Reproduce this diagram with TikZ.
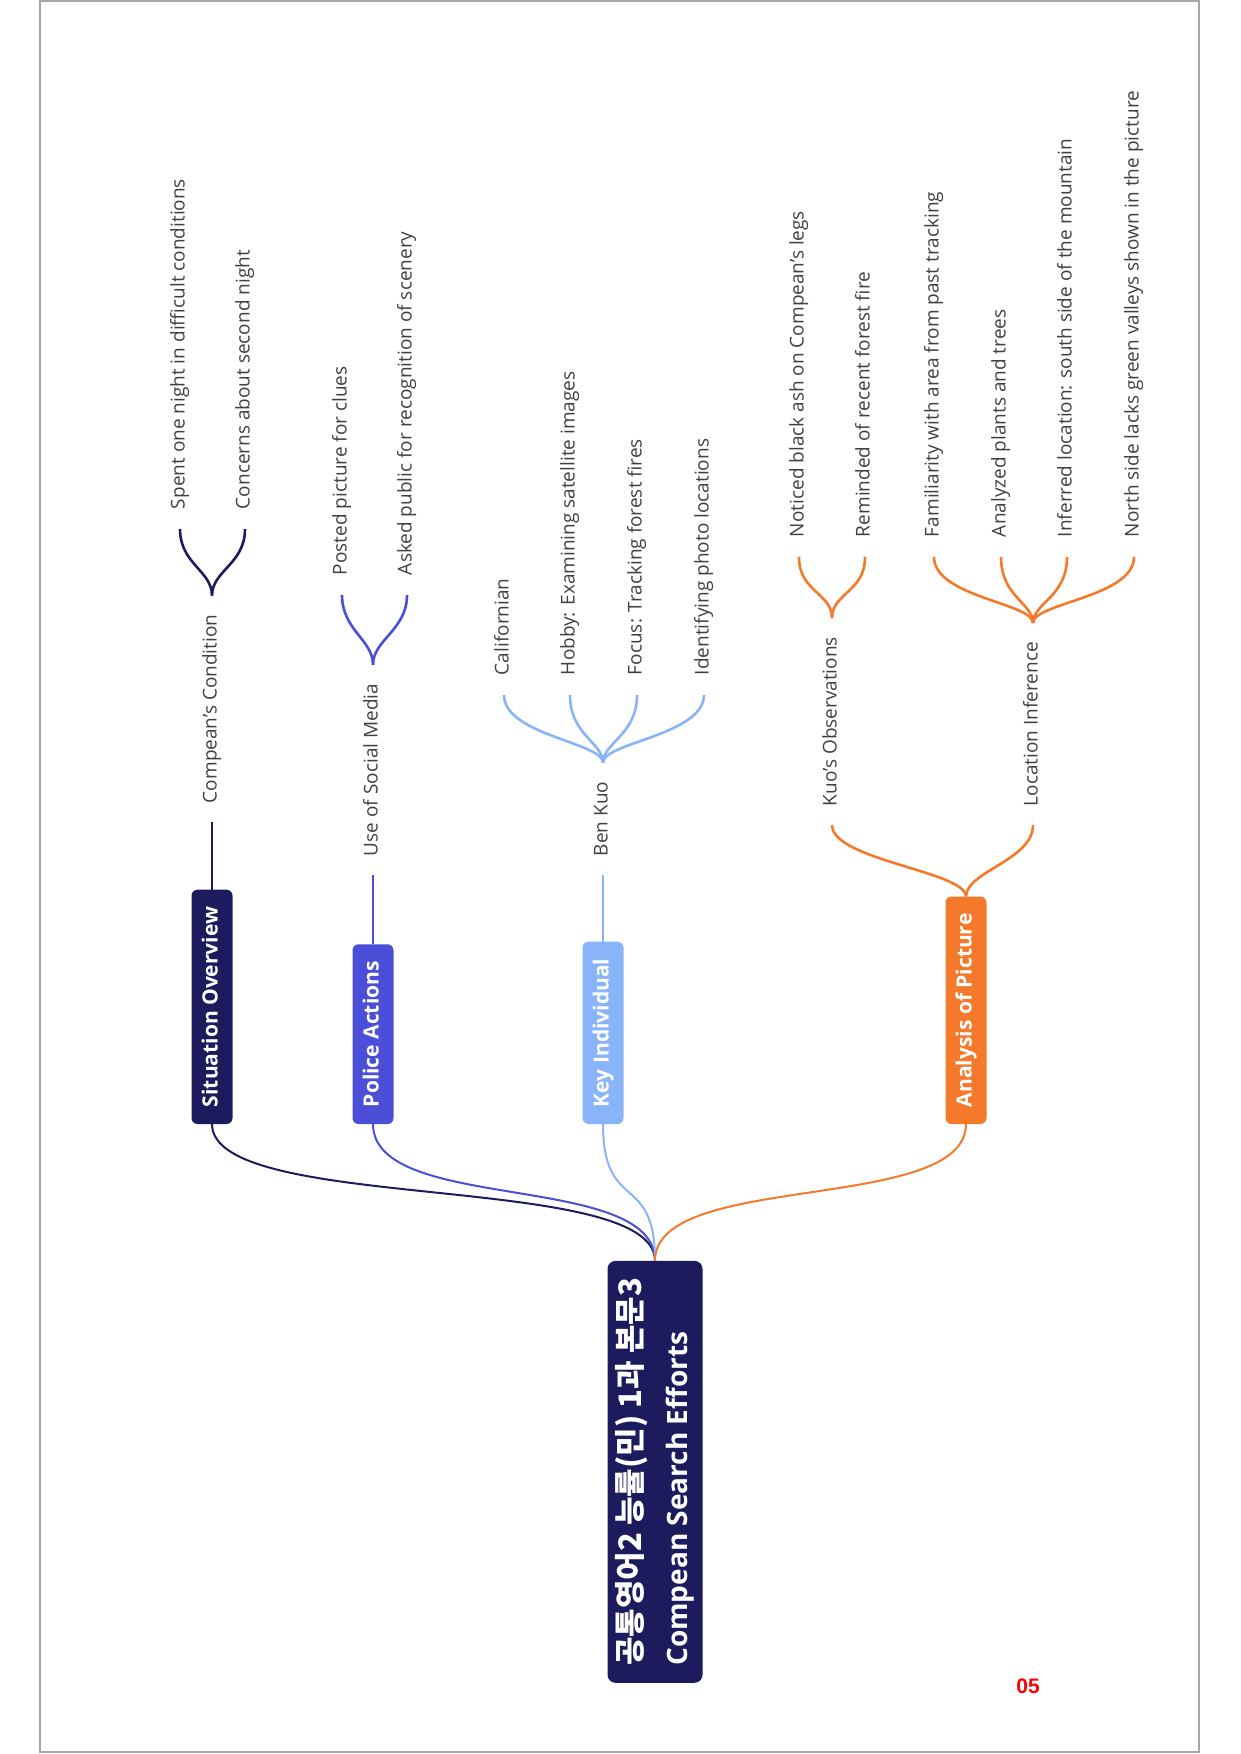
\documentclass[tikz,border=0pt]{standalone}
\usepackage{fontspec}
\setmainfont{Open Sans}
\newfontfamily\krfont{Noto Sans CJK KR}
\newfontfamily\numfont{Liberation Sans}
\usetikzlibrary{positioning}
\definecolor{navy}{HTML}{1C1B5E}
\definecolor{royal}{HTML}{4B4FD8}
\definecolor{sky}{HTML}{8AB4F8}
\definecolor{tangerine}{HTML}{F5792A}
\definecolor{leafgray}{HTML}{404040}
\tikzset{
  topic/.style={rotate=90,anchor=west,fill=#1,rounded corners=6pt,text=white,
    font=\fontsize{21}{25}\selectfont\bfseries,text height=15pt,text depth=4pt,
    inner xsep=17pt,inner ysep=0pt,minimum height=41pt,outer sep=0pt},
  sub/.style={rotate=90,anchor=west,text=leafgray,font=\fontsize{19}{23}\selectfont,
    text height=14pt,text depth=5pt,inner xsep=19pt,inner ysep=0pt,outer sep=0pt},
  leaf/.style={rotate=90,anchor=west,text=leafgray,font=\fontsize{19}{23}\selectfont,
    text height=14pt,text depth=5pt,inner xsep=20pt,inner ysep=0pt,outer sep=0pt},
  trunk/.style={draw=#1,line width=2pt},
  twig/.style={draw=#1,line width=2.6pt},
}
\begin{document}
\begin{tikzpicture}[x=1pt,y=-1pt]
  \useasboundingbox (0,0) rectangle (1240,1754);
  \draw[gray!70,line width=1.5pt] (40,1) rectangle (1199,1752);

  \node[rotate=90,anchor=west,fill=navy,rounded corners=8pt,text=white,align=left,
    font=\fontsize{31}{46}\selectfont\bfseries,inner xsep=17pt,inner ysep=0pt,
    minimum height=95pt] (root) at (655,1683)
    {{\krfont 공통영어2 능률(민) 1과 본문3}\\{\fontsize{28}{46}\selectfont Compean Search Efforts}};

  \node[topic=navy] (so) at (212,1124) {Situation Overview};
  \node[topic=royal] (pa) at (373,1124) {Police Actions};
  \node[topic=sky] (ki) at (603,1124) {Key Individual};
  \node[topic=tangerine] (ap) at (966,1124) {Analysis of Picture};
  \foreach \b/\c in {so/navy,pa/royal,ki/sky,ap/tangerine}
    \draw[trunk=\c] (root.east) .. controls +(0,-90) and +(0,90) .. (\b.west);

  \node[sub] (cond) at (212,822) {Compean's Condition};
  \node[sub] (social) at (373,875) {Use of Social Media};
  \node[sub] (benkuo) at (603,875) {Ben Kuo};
  \node[sub] (kuoobs) at (832,825) {Kuo's Observations};
  \node[sub] (locinf) at (1033,825) {Location Inference};
  \draw[trunk=navy] (so.east) -- (cond.west);
  \draw[trunk=royal] (pa.east) -- (social.west);
  \draw[trunk=sky] (ki.east) -- (benkuo.west);
  \foreach \s in {kuoobs,locinf}
    \draw[twig=tangerine] (ap.east) .. controls +(0,-25) and +(0,35) .. (\s.west);

  \foreach \n/\x/\t in {night/180/Spent one night in difficult conditions,
      second/245/Concerns about second night}{
    \node[leaf] (\n) at (\x,529) {\t};
    \draw[twig=navy] (cond.east) .. controls +(0,-25) and +(0,35) .. (\n.west);
  }
  \foreach \n/\x/\t in {posted/342/Posted picture for clues,
      asked/407/Asked public for recognition of scenery}{
    \node[leaf] (\n) at (\x,595) {\t};
    \draw[twig=royal] (social.east) .. controls +(0,-25) and +(0,35) .. (\n.west);
  }
  \foreach \n/\x/\t in {calif/504/Californian,
      hobby/570/Hobby: Examining satellite images,
      focus/637/Focus: Tracking forest fires,
      ident/704/Identifying photo locations}{
    \node[leaf] (\n) at (\x,695) {\t};
    \draw[twig=sky] (benkuo.east) .. controls +(0,-20) and +(0,40) .. (\n.west);
  }
  \foreach \n/\x/\t in {ash/799/Noticed black ash on Compean's legs,
      fire/865/Reminded of recent forest fire}{
    \node[leaf] (\n) at (\x,557) {\t};
    \draw[twig=tangerine] (kuoobs.east) .. controls +(0,-25) and +(0,35) .. (\n.west);
  }
  \foreach \n/\x/\t in {familiar/934/Familiarity with area from past tracking,
      plants/1001/Analyzed plants and trees,
      south/1067/Inferred location: south side of the mountain,
      north/1134/North side lacks green valleys shown in the picture}{
    \node[leaf] (\n) at (\x,557) {\t};
    \draw[twig=tangerine] (locinf.east) .. controls +(0,-20) and +(0,40) .. (\n.west);
  }

  \node[text=red,font=\numfont\bfseries\fontsize{21}{21}\selectfont] (pagenum) at (1028,1686) {05};
\end{tikzpicture}
\end{document}
